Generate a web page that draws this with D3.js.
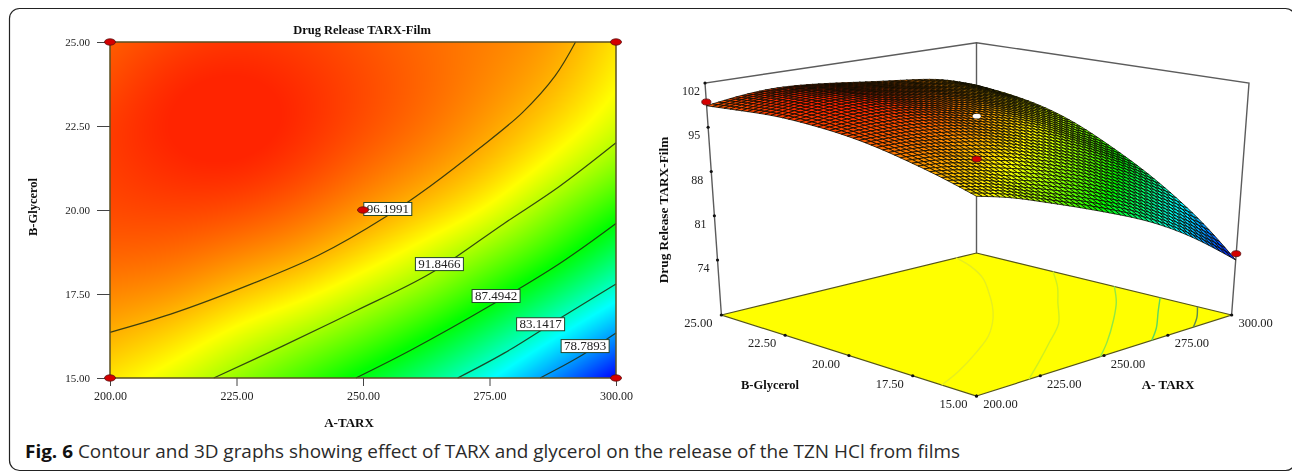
<!DOCTYPE html>
<html>
<head>
<meta charset="utf-8">
<script src="https://cdn.jsdelivr.net/npm/d3@7"></script>
<style>
html, body { margin: 0; padding: 0; background: #fff; overflow: hidden; }
svg { display: block; }
.lab { font-family: "Liberation Serif", serif; fill: #222; }
.lab-b { font-family: "Liberation Serif", serif; font-weight: bold; fill: #111; }
</style>
</head>
<body>
<svg id="fig" width="1292" height="472"></svg>
<script>
// values
const aValues = [200, 212.5, 225, 237.5, 250, 262.5, 275, 287.5, 300];
const bValues = [15, 16.25, 17.5, 18.75, 20, 21.25, 22.5, 23.75, 25];
// release estimated at each B row (bottom to top) and A column
const release = [
  [94.5, 93.2, 91.2, 89.2, 87.0, 84.7, 81.8, 78.2, 74.0],
  [96.0, 95.0, 93.2, 91.7, 90.0, 87.7, 85.0, 81.9, 78.5],
  [97.2, 96.9, 95.5, 94.4, 92.5, 90.8, 88.2, 85.4, 82.2],
  [98.3, 98.2, 97.4, 96.7, 95.0, 93.1, 91.0, 88.7, 85.5],
  [99.0, 99.2, 99.0, 98.2, 96.9, 95.5, 93.8, 90.9, 88.3],
  [99.3, 99.9, 100.1, 99.4, 98.1, 97.0, 95.6, 93.4, 91.0],
  [99.4, 100.2, 100.6, 99.9, 98.9, 97.9, 96.6, 95.0, 92.9],
  [98.9, 100.0, 100.3, 99.8, 99.0, 98.2, 97.2, 96.1, 94.0],
  [98.4, 99.2, 99.6, 99.3, 98.7, 98.0, 97.4, 96.7, 94.6]
];

// contour lines as [A, B]
const contour96 = [[200,16.36],[212,16.9],[228,17.8],[241.3,18.66],[254.5,19.8],[263.2,20.7],[272.7,21.8],[281.5,22.9],[288,24],[292,25]];
const contour91 = [[220.5,15],[234,15.94],[248.6,17],[263.2,18.1],[277.9,19.6],[288.8,20.7],[300,22]];
const contour87 = [[248.6,15],[259.6,15.84],[275.7,17.2],[288.8,18.4],[300,19.6]];
const contour83 = [[268.7,15],[277.9,15.74],[289.5,16.83],[300,17.8]];
const contour78 = [[285,15],[292.4,15.6],[300,16.34]];
const contours = [contour96, contour91, contour87, contour83, contour78];
const contourLabels = ['96.1991', '91.8466', '87.4942', '83.1417', '78.7893'];
const labelA = [254.9, 265.1, 276.3, 285.1, 293.9];
const labelB = [20.03, 18.39, 17.44, 16.6, 15.95];
const floorColors = ['#e6ee20', '#cfef20', '#8fe845', '#5cd860', '#5c8a50'];

const designA = [200, 300, 200, 300, 250];
const designB = [15, 15, 25, 25, 20];

const zTicks = [74, 81, 88, 95, 102];
const colorValues = [74, 81.5, 87.5, 93.8, 100];
const colorNames = ['#0000ff', '#00ffff', '#00ff00', '#ffff00', '#ff2400'];

// design points on the 3D view [A, B, release]
const points3d = [[200, 25, 99], [300, 15, 75], [250, 20, 90.8]];
const holeA = 250, holeB = 20, holeZ = 97.6;

const color = d3.scaleLinear().domain(colorValues).range(colorNames).clamp(true);
const svg = d3.select('#fig');

const defs = svg.append('defs');
defs.append('filter').attr('id', 'soft')
  .append('feGaussianBlur').attr('stdDeviation', 0.55);

// card border, runs off the right side
svg.append('rect')
  .attr('x', 9.5).attr('y', 8.5)
  .attr('width', 1286).attr('height', 462)
  .attr('rx', 10)
  .attr('fill', 'none').attr('stroke', '#222').attr('stroke-width', 1.2);

const uA = d3.scaleLinear().domain([200, 300]).range([0, 1]);
const uB = d3.scaleLinear().domain([15, 25]).range([0, 1]);

// reads the table at any A, B for painting the fill and the mesh
const rowCurves = release.map(r => d3.interpolateBasis(r));
const columns = new Map();
const zAt = (a, b) => {
  if (!columns.has(a)) columns.set(a, d3.interpolateBasis(rowCurves.map(f => f(uA(a)))));
  return columns.get(a)(uB(b));
};

/* ---------- contour plot ---------- */
const plot = { left: 110, right: 616, top: 42, bottom: 378 };
const x = d3.scaleLinear().domain([200, 300]).range([plot.left, plot.right]);
const y = d3.scaleLinear().domain([15, 25]).range([plot.bottom, plot.top]);

const w = plot.right - plot.left, h = plot.bottom - plot.top;
const cv = document.createElement('canvas');
cv.width = w; cv.height = h;
const ctx = cv.getContext('2d');
const img = ctx.createImageData(w, h);
for (let i = 0; i < w; i++) {
  const a = x.invert(plot.left + i + 0.5);
  for (let j = 0; j < h; j++) {
    const c = d3.rgb(color(zAt(a, y.invert(plot.top + j + 0.5))));
    const k = (j * w + i) * 4;
    img.data[k] = c.r; img.data[k + 1] = c.g; img.data[k + 2] = c.b; img.data[k + 3] = 255;
  }
}
ctx.putImageData(img, 0, 0);

const left = svg.append('g');
left.append('image')
  .attr('x', plot.left).attr('y', plot.top)
  .attr('width', w).attr('height', h)
  .attr('href', cv.toDataURL());

const line2d = d3.line().x(d => x(d[0])).y(d => y(d[1])).curve(d3.curveCatmullRom);
left.selectAll('path.contour')
  .data(contours)
  .enter().append('path')
  .attr('class', 'contour')
  .attr('d', line2d)
  .attr('fill', 'none')
  .attr('stroke', '#1c2a10').attr('stroke-width', 1.2).attr('stroke-opacity', 0.85);

left.append('rect')
  .attr('x', plot.left).attr('y', plot.top)
  .attr('width', w).attr('height', h)
  .attr('fill', 'none').attr('stroke', '#5a4f22').attr('stroke-width', 1.5);

const yAxis = d3.axisLeft(y).tickValues([15, 17.5, 20, 22.5, 25]).tickFormat(d3.format('.2f')).tickSize(13).tickPadding(7);
const xAxis = d3.axisBottom(x).tickValues([200, 225, 250, 275, 300]).tickFormat(d3.format('.2f')).tickSize(8).tickPadding(5);
[[yAxis, `translate(${plot.left},0)`, 11], [xAxis, `translate(0,${plot.bottom})`, 12]].forEach(([ax, tr, fs]) => {
  const g = left.append('g').attr('transform', tr).call(ax);
  g.select('.domain').remove();
  g.selectAll('line').attr('stroke', '#444');
  g.selectAll('text').attr('class', 'lab').attr('font-size', fs).attr('filter', 'url(#soft)');
});

const labelW = 48, labelH = 13;
const tags = left.selectAll('g.tag')
  .data(contourLabels)
  .enter().append('g')
  .attr('class', 'tag')
  .attr('transform', (d, i) => `translate(${x(labelA[i])},${y(labelB[i])})`);
tags.append('rect')
  .attr('x', -labelW / 2).attr('y', -labelH / 2)
  .attr('width', labelW).attr('height', labelH)
  .attr('fill', '#fff').attr('stroke', '#24452a').attr('stroke-width', 1);
tags.append('text')
  .attr('class', 'lab')
  .attr('text-anchor', 'middle').attr('y', 4)
  .attr('font-size', 13).attr('filter', 'url(#soft)')
  .text(d => d);

const marker = (sel, px, py, rx, ry) => sel.append('ellipse')
  .attr('cx', px).attr('cy', py).attr('rx', rx).attr('ry', ry)
  .attr('fill', '#d40000').attr('stroke', '#5a1010').attr('stroke-width', 0.8);
designA.forEach((a, i) => marker(left, x(a), y(designB[i]), 5.5, 3.2));

left.append('text').attr('class', 'lab-b').attr('x', 362).attr('y', 34)
  .attr('text-anchor', 'middle').attr('font-size', 12.5).attr('filter', 'url(#soft)')
  .text('Drug Release TARX-Film');
left.append('text').attr('class', 'lab-b').attr('x', 349).attr('y', 427)
  .attr('text-anchor', 'middle').attr('font-size', 13).attr('filter', 'url(#soft)')
  .text('A-TARX');
left.append('text').attr('class', 'lab-b')
  .attr('transform', 'translate(37,207) rotate(-90)')
  .attr('text-anchor', 'middle').attr('font-size', 12.5).attr('filter', 'url(#soft)')
  .text('B-Glycerol');

/* ---------- 3D view ---------- */
// box corners as seen in the picture
const floorBox = { f: [976.5, 396], l: [721.4, 315], r: [1231.6, 315], b: [976.5, 253] };
const topBox = { f: [976.5, 145], l: [705, 83], r: [1249, 83], b: [976.5, 42.7] };
const zFloor = 65.3, zTop = 102;

const t = d3.scaleLinear().domain([zFloor, zTop]).range([0, 1]);

const onBox = (box, s, q) => [0, 1].map(k =>
  box.f[k] * (1 - s) * (1 - q) + box.r[k] * s * (1 - q) + box.l[k] * (1 - s) * q + box.b[k] * s * q);

const project = (a, b, z) => {
  const p0 = onBox(floorBox, uA(a), uB(b));
  const p1 = onBox(topBox, uA(a), uB(b));
  const m = t(z);
  return [p0[0] + (p1[0] - p0[0]) * m, p0[1] + (p1[1] - p0[1]) * m];
};

const view = svg.append('g');
const boxLine = d3.line();
const boxEdges = [
  [project(200, 25, zFloor), project(200, 25, zTop), project(300, 25, zTop), project(300, 15, zTop), project(300, 15, zFloor)],
  [project(300, 25, zTop), project(300, 25, zFloor)]
];
view.selectAll('path.box')
  .data(boxEdges)
  .enter().append('path')
  .attr('class', 'box')
  .attr('d', boxLine)
  .attr('fill', 'none').attr('stroke', '#5c5c5c').attr('stroke-width', 1.4);

// floor
const floorPts = [project(200, 15, zFloor), project(300, 15, zFloor), project(300, 25, zFloor), project(200, 25, zFloor)];
view.append('path')
  .attr('d', boxLine(floorPts) + 'Z')
  .attr('fill', '#ffff00').attr('stroke', '#55551a').attr('stroke-width', 1.2);

const lineFloor = d3.line().x(d => project(d[0], d[1], zFloor)[0]).y(d => project(d[0], d[1], zFloor)[1]).curve(d3.curveCatmullRom);
view.selectAll('path.floorline')
  .data(contours)
  .enter().append('path')
  .attr('class', 'floorline')
  .attr('d', lineFloor)
  .attr('fill', 'none')
  .attr('stroke', (d, i) => floorColors[i]).attr('stroke-width', 1.4);

// surface mesh, far cells first
const meshDiv = 46;
const aStep = d3.range(meshDiv + 1).map(i => 200 + (300 - 200) * i / meshDiv);
const bStep = d3.range(meshDiv + 1).map(i => 15 + (25 - 15) * i / meshDiv);
const cells = [];
for (let j = meshDiv - 1; j >= 0; j--) {
  for (let i = meshDiv - 1; i >= 0; i--) {
    cells.push({ a0: aStep[i], a1: aStep[i + 1], b0: bStep[j], b1: bStep[j + 1] });
  }
}
const cellPath = d => boxLine([
  project(d.a0, d.b0, zAt(d.a0, d.b0)),
  project(d.a1, d.b0, zAt(d.a1, d.b0)),
  project(d.a1, d.b1, zAt(d.a1, d.b1)),
  project(d.a0, d.b1, zAt(d.a0, d.b1))
]) + 'Z';
view.append('g').selectAll('path')
  .data(cells)
  .enter().append('path')
  .attr('d', cellPath)
  .attr('fill', d => color(zAt(d.a0, d.b0)))
  .attr('stroke', '#0a0a00').attr('stroke-width', 1).attr('stroke-opacity', 0.8);

// hole where the point pokes through, then the red points
const hole = project(holeA, holeB, holeZ);
view.append('ellipse').attr('cx', hole[0]).attr('cy', hole[1]).attr('rx', 4).attr('ry', 2.4).attr('fill', '#fff');
points3d.forEach(p => {
  const q = project(p[0], p[1], p[2]);
  marker(view, q[0], q[1], 4.6, 3);
});

// ticks and labels
const dot = (px, py) => view.append('circle').attr('cx', px).attr('cy', py).attr('r', 1.6).attr('fill', '#111');
const tickText = (px, py, txt, fs) => view.append('text').attr('class', 'lab')
  .attr('x', px).attr('y', py).attr('text-anchor', 'middle')
  .attr('font-size', fs).attr('filter', 'url(#soft)').text(txt);

[25, 22.5, 20, 17.5, 15].forEach(b => {
  const p = project(200, b, zFloor);
  dot(p[0], p[1]);
  tickText(p[0] - 23, p[1] + 12, d3.format('.2f')(b), 12.5);
});
[200, 225, 250, 275, 300].forEach(a => {
  const p = project(a, 15, zFloor);
  dot(p[0], p[1]);
  tickText(p[0] + 24, p[1] + 12, d3.format('.2f')(a), 12.5);
});
zTicks.forEach(z => {
  const p = project(200, 25, z);
  dot(p[0], p[1]);
  tickText(p[0] - 14, p[1] + 12, String(z), 12);
});

const viewTitle = (px, py, txt, rot, fs) => view.append('text').attr('class', 'lab-b')
  .attr('transform', `translate(${px},${py}) rotate(${rot})`)
  .attr('text-anchor', 'middle').attr('font-size', fs).attr('filter', 'url(#soft)').text(txt);
viewTitle(770, 389, 'B-Glycerol', 0, 12.5);
viewTitle(1168, 389, 'A- TARX', 0, 13);
viewTitle(668, 210, 'Drug Release TARX-Film', -90, 13.3);

/* ---------- caption ---------- */
const cap = svg.append('text')
  .attr('x', 25).attr('y', 458)
  .attr('font-family', '"Open Sans", "Noto Sans", sans-serif')
  .attr('font-size', 18).attr('fill', '#2a2a2a')
  .attr('textLength', 935).attr('lengthAdjust', 'spacingAndGlyphs');
cap.append('tspan').attr('font-weight', 'bold').attr('fill', '#111').text('Fig. 6');
cap.append('tspan').text(' Contour and 3D graphs showing effect of TARX and glycerol on the release of the TZN HCl from films');
</script>
</body>
</html>
